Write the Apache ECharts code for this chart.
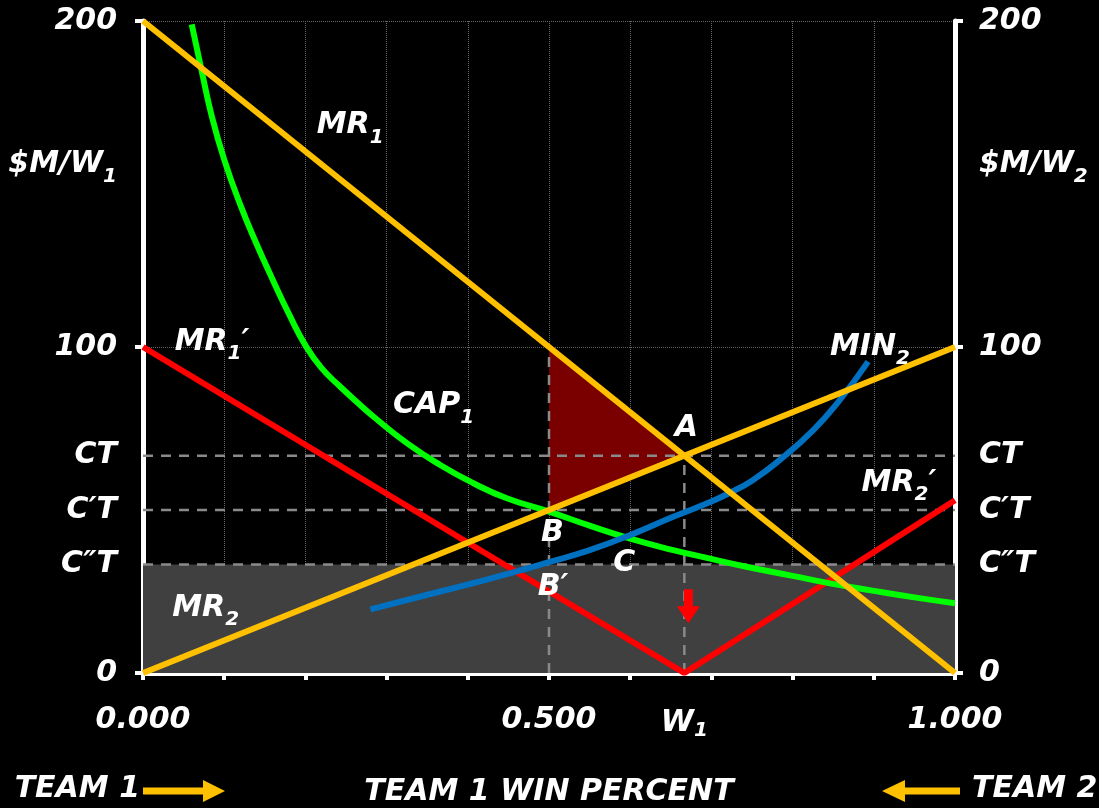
<!DOCTYPE html>
<html><head><meta charset="utf-8">
<script src="https://cdn.jsdelivr.net/npm/echarts@6/dist/echarts.min.js"></script>
<style>html,body{margin:0;padding:0;background:#000}#c{width:1099px;height:808px}</style>
</head><body><div id="c"></div>
<script>
// ---- data ----
const W1 = 2/3;
const CT = 66.67, C1T = 50, C2T = 33.3;
const mr1 = [[0,200],[1,0]];
const mr2 = [[0,0],[1,100]];
const mr1p = [[0,100],[W1,0],[1,53]];
const cap1 = [[0.060,199],[0.072,185],[0.085,170.5],[0.10,157.5],[0.12,143.5],[0.14,131.5],[0.16,120.5],[0.18,110],[0.20,100.5],[0.22,93.5],[0.243,87.8],[0.263,83.2],[0.284,78.6],[0.325,70.5],[0.366,63.8],[0.407,58.2],[0.448,53.6],[0.50,49.5],[0.55,45.2],[0.60,41.2],[0.653,37.7],[0.70,35],[0.743,32.6],[0.80,29.8],[0.846,27.5],[0.90,25.2],[0.95,23.2],[1.0,21.4]];
const min2 = [[0.28,19.5],[0.325,22.4],[0.366,25],[0.407,27.6],[0.448,30.3],[0.50,34],[0.55,37.7],[0.60,42.3],[0.653,47.9],[0.70,52.6],[0.723,55.3],[0.75,59.0],[0.784,65.3],[0.8255,74.5],[0.858,83.7],[0.893,95.5]];
const triangle = [[0.5,100],[W1,CT],[0.5,C1T]];
const shadeTop = C2T;
const hRefs = [CT, C1T, C2T];
const vRefs = [[0.5,100],[W1,CT]];
const xLabelValues = [0, 0.5, W1, 1];
const xLabelTexts = ['0.000','0.500','{m|W}{x|1}','1.000'];
const yLabelValues = [0, C2T, C1T, CT, 100, 156, 200];
const yLabelTextsL = ['0','C″T','C′T','CT','100','{m|$M/W}{s|1}','200'];
const yLabelTextsR = ['0','C″T','C′T','CT','100','{m|$M/W}{s|2}','200'];
const annotations = [
  ['{m|MR}{s|1}', 0.214, 168],
  ['{m|MR}{s|1}{m|′}', 0.039, 101.5],
  ['{m|CAP}{s|1}', 0.308, 82],
  ['{m|A}', 0.655, 75],
  ['{m|B}', 0.49, 43],
  ['{m|B′}', 0.486, 26.4],
  ['{m|C}', 0.579, 33.7],
  ['{m|MIN}{s|2}', 0.846, 100],
  ['{m|MR}{s|2}{m|′}', 0.885, 58.3],
  ['{m|MR}{s|2}', 0.036, 20]
];
const downArrowAt = [W1 + 0.005, 20.5];

// ---- styles ----
const FONT = 'DejaVu Sans';
const ORANGE = '#FFC000', GREEN = '#00FF00', RED = '#FF0000', BLUE = '#0070C0';
const rich = {
  m: {fontFamily: FONT, fontStyle: 'italic', fontWeight: 'bold', fontSize: 30, color: '#fff', opacity:1},
  s: {fontFamily: FONT, fontStyle: 'italic', fontWeight: 'bold', fontSize: 20, color: '#fff', opacity:1, padding: [24,0,0,0]},
  x: {fontFamily: FONT, fontStyle: 'italic', fontWeight: 'bold', fontSize: 20, color: '#fff', opacity:1, padding: [16,0,0,0]}
};
function pick(vals, texts, v){
  for (let i=0;i<vals.length;i++) if (Math.abs(vals[i]-v) < 0.01) return texts[i];
  return '';
}
const dash = {color:'#8a8a8a', width:2.5, type:[10,8]};
const series = [];
series.push({type:'line', data:[], markArea:{silent:true, itemStyle:{color:'#404040', opacity:1}, data:[[{coord:[0,0]},{coord:[1,shadeTop]}]]}, z:1});
series.push({type:'custom', z:2, data: triangle,
  renderItem: function(params, api){
    if (params.dataIndex !== 0) return null;
    const pts = triangle.map(p => api.coord(p));
    return {type:'polygon', shape:{points:pts}, style:{fill:'#7a0000'}};
  }});
hRefs.forEach(v => series.push({type:'line', z:3, symbol:'none', lineStyle:dash, data:[[0,v],[1,v]]}));
vRefs.forEach(p => series.push({type:'line', z:3, symbol:'none', lineStyle:dash, data:[[p[0],0],[p[0],p[1]]]}));
function ln(d, c, smooth){ return {type:'line', z:5, symbol:'none', smooth: smooth||false, lineStyle:{color:c, width:6, cap:'butt'}, data:d}; }
series.push(ln(mr1p, RED));
series.push(ln(cap1, GREEN, 0.5));
series.push(ln(min2, BLUE, 0.5));
series.push(ln(mr2, ORANGE));
series.push(ln(mr1, ORANGE));
series.push({type:'scatter', z:6, data:[downArrowAt], symbol:'path://M7,0 H16 V17 H23 L11.5,34 L0,17 H7 Z', symbolSize:[23,34], itemStyle:{color:RED, opacity:1}, silent:true});
series.push({type:'scatter', z:7, symbolSize:0, silent:true,
  data: annotations.map(a => ({value:[a[1],a[2]], name:a[0]})),
  label:{show:true, position:'right', distance:0, color:'#fff', opacity:1, textBorderWidth:0, formatter: p => p.name, rich: rich},
  emphasis:{disabled:true}});

const chart = echarts.init(document.getElementById('c'));
const lblFont = {color:'#fff', fontFamily:FONT, fontStyle:'italic', fontWeight:'bold', fontSize:30};
chart.setOption({
  animation:false,
  backgroundColor:'#000',
  grid:{left:143, right:144, top:21, bottom:135, outerBoundsMode:'none', containLabel:false},
  xAxis:{type:'value', min:0, max:1, interval:0.1,
    axisLine:{lineStyle:{color:'#fff', width:5}},
    axisTick:{length:7, lineStyle:{color:'#fff', width:4}},
    splitLine:{show:true, lineStyle:{color:'#666', width:1, type:'dotted'}},
    axisLabel:Object.assign({customValues:xLabelValues, margin:32, rich:rich,
      formatter: v => pick(xLabelValues, xLabelTexts, v)}, lblFont),
    name:'TEAM 1 WIN PERCENT', nameLocation:'middle', nameGap:104,
    nameTextStyle:{color:'#fff', fontFamily:FONT, fontStyle:'italic', fontWeight:'bold', fontSize:30}
  },
  yAxis:[
    {type:'value', min:0, max:200, interval:100, position:'left',
      axisLine:{show:true, lineStyle:{color:'#fff', width:5}},
      axisTick:{show:true, length:8, lineStyle:{color:'#fff', width:4}},
      splitLine:{show:true, lineStyle:{color:'#666', width:1, type:'dotted'}},
      axisLabel:Object.assign({customValues:yLabelValues, margin:26, rich:rich,
        formatter: v => pick(yLabelValues, yLabelTextsL, v)}, lblFont)},
    {type:'value', min:0, max:200, interval:100, position:'right',
      axisLine:{show:true, lineStyle:{color:'#fff', width:5}},
      axisTick:{show:true, length:8, lineStyle:{color:'#fff', width:4}},
      splitLine:{show:false},
      axisLabel:Object.assign({customValues:yLabelValues, margin:24, rich:rich,
        formatter: v => pick(yLabelValues, yLabelTextsR, v)}, lblFont)}
  ],
  series: series,
  graphic:[
    {type:'text', right: 1099-140, top: 774, style:{text:'TEAM 1', fill:'#fff', font:'italic bold 30px "DejaVu Sans"', textAlign:'right'}},
    {type:'text', left: 972, top: 774, style:{text:'TEAM 2', fill:'#fff', font:'italic bold 30px "DejaVu Sans"'}},
    {type:'polygon', shape:{points:[[143,787.5],[203,787.5],[203,780],[225,791],[203,802],[203,794.5],[143,794.5]]}, style:{fill:ORANGE}},
    {type:'polygon', shape:{points:[[960,787.5],[905,787.5],[905,780],[882,791],[905,802],[905,794.5],[960,794.5]]}, style:{fill:ORANGE}}
  ]
});
</script></body></html>
